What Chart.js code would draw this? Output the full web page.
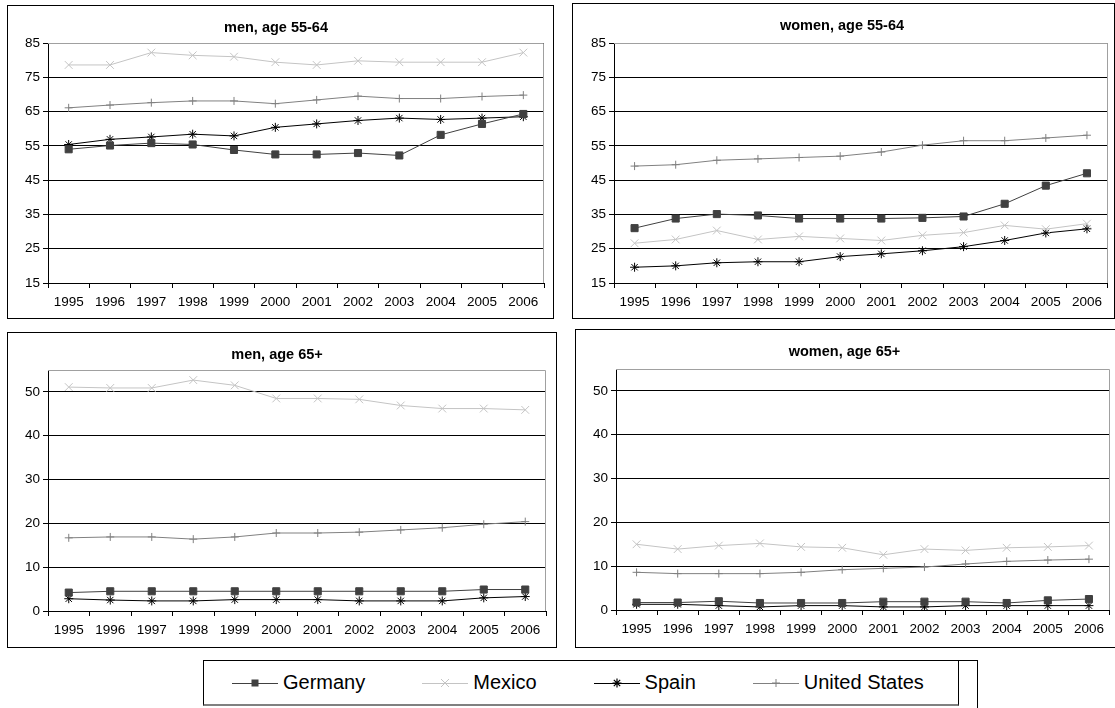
<!DOCTYPE html>
<html>
<head>
<meta charset="utf-8">
<script src="https://cdn.jsdelivr.net/npm/chart.js@4.4.1/dist/chart.umd.min.js"></script>
<style>
  html, body { margin: 0; padding: 0; background: #fff; }
  body { width: 1115px; height: 708px; position: relative; overflow: hidden;
         font-family: "Liberation Sans", Arial, sans-serif; }
  .panel { position: absolute; border: 1px solid #000; box-sizing: border-box; background: #fff; }
  .panel canvas { position: absolute; left: 0; top: 0; }
  #frame { position: absolute; left: 203px; top: 660px; width: 775px; height: 60px;
           border-top: 1px solid #000; border-right: 1px solid #000; box-sizing: border-box; }
  #legend { position: absolute; left: 203px; top: 660px; width: 756px; height: 46px;
            border: 1px solid #000; border-bottom: 2px solid #808080; box-sizing: border-box;
            background: #fff; display: flex; align-items: center; padding-left: 28px; }
  .item { display: flex; align-items: center; margin-right: 57px; font-size: 20px; color: #000;
          white-space: nowrap; flex-shrink: 0; }
  .item svg { margin-right: 5px; }
</style>
</head>
<body>
<div id="frame"></div>
<div id="legend"></div>
<script>
const years = ["1995", "1996", "1997", "1998", "1999", "2000", "2001", "2002", "2003", "2004", "2005", "2006"];
const countries = ["Germany", "Mexico", "Spain", "United States"];

// men, age 55-64
const menMidGermany = [54.0, 55.1, 55.8, 55.4, 53.8, 52.5, 52.5, 52.9, 52.2, 58.2, 61.4, 64.3];
const menMidMexico = [78.6, 78.6, 82.2, 81.4, 81.0, 79.4, 78.6, 79.8, 79.4, 79.4, 79.4, 82.2];
const menMidSpain = [55.4, 56.9, 57.6, 58.4, 57.9, 60.4, 61.4, 62.4, 63.1, 62.7, 63.1, 63.5];
const menMidUS = [66.1, 66.9, 67.6, 68.1, 68.1, 67.3, 68.4, 69.5, 68.8, 68.8, 69.4, 69.8];

// women, age 55-64
const womenMidGermany = [31.0, 33.8, 35.1, 34.7, 33.8, 33.8, 33.8, 34.0, 34.4, 38.1, 43.4, 47.0];
const womenMidMexico = [26.6, 27.7, 30.3, 27.7, 28.6, 28.0, 27.4, 28.9, 29.7, 31.8, 30.7, 32.3];
const womenMidSpain = [19.6, 20.0, 20.9, 21.2, 21.2, 22.7, 23.5, 24.4, 25.6, 27.4, 29.6, 30.8];
const womenMidUS = [49.1, 49.5, 50.8, 51.2, 51.6, 52.0, 53.2, 55.2, 56.5, 56.5, 57.3, 58.1];

// men, age 65+
const menOldGermany = [4.2, 4.5, 4.5, 4.5, 4.5, 4.5, 4.5, 4.5, 4.5, 4.5, 4.9, 4.9];
const menOldMexico = [51.1, 50.9, 50.9, 52.7, 51.5, 48.5, 48.5, 48.3, 46.9, 46.2, 46.2, 45.9];
const menOldSpain = [2.8, 2.5, 2.3, 2.3, 2.6, 2.6, 2.6, 2.3, 2.3, 2.3, 3.0, 3.3];
const menOldUS = [16.7, 16.9, 16.9, 16.4, 16.9, 17.8, 17.8, 18.0, 18.5, 19.0, 19.8, 20.4];

// women, age 65+
const womenOldGermany = [1.7, 1.7, 2.0, 1.6, 1.6, 1.6, 1.9, 1.9, 1.9, 1.6, 2.2, 2.5];
const womenOldMexico = [15.0, 13.9, 14.7, 15.2, 14.4, 14.2, 12.6, 13.9, 13.6, 14.2, 14.4, 14.7];
const womenOldSpain = [1.3, 1.3, 1.0, 0.7, 1.0, 1.0, 0.7, 0.7, 1.0, 1.0, 1.0, 1.0];
const womenOldUS = [8.6, 8.3, 8.3, 8.3, 8.6, 9.2, 9.5, 9.8, 10.5, 11.1, 11.4, 11.6];

const midRange = [15, 85];
const oldRange = [0, 55];
const tickStep = 10;

// look of each series
const looks = {
  "Germany": { color: "#404040", point: "rect", radius: 5 },
  "Mexico": { color: "#c4c4c4", point: "crossRot", radius: 5.5 },
  "Spain": { color: "#000000", point: "star", radius: 4.5 },
  "United States": { color: "#808080", point: "cross", radius: 4 }
};

Chart.defaults.font.family = '"Liberation Sans", Arial, sans-serif';
Chart.defaults.color = "#000";

// gray frame on top and right of the plot area, like Excel
const plotFrame = {
  id: "plotFrame",
  beforeDatasetsDraw(chart) {
    const a = chart.chartArea;
    const ctx = chart.ctx;
    ctx.save();
    ctx.strokeStyle = "#a0a0a0";
    ctx.lineWidth = 1;
    ctx.beginPath();
    ctx.moveTo(a.left, Math.round(a.top) + 0.5);
    ctx.lineTo(Math.round(a.right) - 0.5, Math.round(a.top) + 0.5);
    ctx.lineTo(Math.round(a.right) - 0.5, a.bottom);
    ctx.stroke();
    ctx.restore();
  }
};

function makePanel(box, plot, titleText, titleY, range, values) {
  const div = document.createElement("div");
  div.className = "panel";
  div.style.left = box.l + "px";
  div.style.top = box.t + "px";
  div.style.width = (box.r - box.l + 1) + "px";
  div.style.height = (box.b - box.t + 1) + "px";
  const canvas = document.createElement("canvas");
  const cw = box.r - box.l - 1;
  const ch = box.b - box.t - 1;
  canvas.width = cw;
  canvas.height = ch;
  canvas.style.width = cw + "px";
  canvas.style.height = ch + "px";
  div.appendChild(canvas);
  document.body.appendChild(div);

  const yAxisW = plot.l - (box.l + 1);
  const xAxisH = box.b - plot.b;
  const padRight = box.r - plot.r;
  const titleBlock = plot.t - (box.t + 1);
  const titleSize = 14.5;
  const lineH = titleSize * 1.2;
  const padTop = titleY - (box.t + 1) - lineH / 2;
  const padBottom = titleBlock - padTop - lineH;

  new Chart(canvas, {
    type: "line",
    data: {
      labels: years,
      datasets: countries.map((c, i) => ({
        label: c,
        data: values[i],
        borderColor: looks[c].color,
        backgroundColor: looks[c].color,
        pointBorderColor: looks[c].color,
        pointBackgroundColor: looks[c].color,
        pointStyle: looks[c].point,
        pointRadius: looks[c].radius,
        pointBorderWidth: 1,
        borderWidth: 1,
        tension: 0,
        fill: false
      }))
    },
    options: {
      responsive: false,
      animation: false,
      devicePixelRatio: 1,
      layout: { padding: { left: 0, right: padRight, top: 0, bottom: 0 } },
      plugins: {
        legend: { display: false },
        tooltip: { enabled: false },
        title: {
          display: true,
          text: titleText,
          font: { size: titleSize, weight: "bold" },
          color: "#000",
          padding: { top: padTop, bottom: padBottom }
        }
      },
      scales: {
        x: {
          offset: true,
          grid: { display: true, drawOnChartArea: false, offset: true, color: "#000", tickLength: 5 },
          border: { color: "#000" },
          ticks: { font: { size: 13.5 }, padding: 6, maxRotation: 0, autoSkip: false },
          afterFit: (s) => { s.height = xAxisH; }
        },
        y: {
          min: range[0],
          max: range[1],
          bounds: "data",
          grid: { color: "#000", tickLength: 5 },
          border: { color: "#000" },
          ticks: { stepSize: tickStep, includeBounds: false, font: { size: 13.5 }, padding: 3 },
          afterBuildTicks: (s) => {
            s.ticks = s.ticks.filter((t) => (t.value - range[0]) % tickStep === 0);
          },
          afterFit: (s) => { s.width = yAxisW; }
        }
      }
    },
    plugins: [plotFrame]
  });
}

makePanel({ l: 7, t: 5, r: 553, b: 318 }, { l: 48, t: 43, r: 544, b: 283 },
  "men, age 55-64", 28, midRange, [menMidGermany, menMidMexico, menMidSpain, menMidUS]);
makePanel({ l: 572, t: 3, r: 1114, b: 318 }, { l: 614, t: 43, r: 1111, b: 283 },
  "women, age 55-64", 26, midRange, [womenMidGermany, womenMidMexico, womenMidSpain, womenMidUS]);
makePanel({ l: 7, t: 332, r: 556, b: 647 }, { l: 48, t: 370, r: 546, b: 611 },
  "men, age 65+", 355, oldRange, [menOldGermany, menOldMexico, menOldSpain, menOldUS]);
makePanel({ l: 575, t: 329, r: 1116, b: 647 }, { l: 616, t: 369, r: 1113, b: 610 },
  "women, age 65+", 352, oldRange, [womenOldGermany, womenOldMexico, womenOldSpain, womenOldUS]);

// legend with line + marker samples
function sample(c) {
  const col = looks[c].color;
  let mark = "";
  if (c === "Germany") mark = `<rect x="19.5" y="6.5" width="7" height="7" fill="${col}"/>`;
  if (c === "Mexico") mark = `<path d="M19 6 L27 14 M27 6 L19 14" stroke="${col}" stroke-width="1"/>`;
  if (c === "Spain") mark = `<path d="M23 5.5 L23 14.5 M18.5 10 L27.5 10 M19.8 6.8 L26.2 13.2 M26.2 6.8 L19.8 13.2" stroke="${col}" stroke-width="1.2"/>`;
  if (c === "United States") mark = `<path d="M23 6 L23 14 M19 10 L27 10" stroke="${col}" stroke-width="1"/>`;
  return `<svg width="46" height="20"><line x1="0" y1="10.5" x2="46" y2="10.5" stroke="${col}" stroke-width="1.2"/>${mark}</svg>`;
}
const legend = document.getElementById("legend");
countries.forEach((c) => {
  const it = document.createElement("div");
  it.className = "item";
  it.innerHTML = sample(c) + "<span>" + c + "</span>";
  legend.appendChild(it);
});
</script>
</body>
</html>
